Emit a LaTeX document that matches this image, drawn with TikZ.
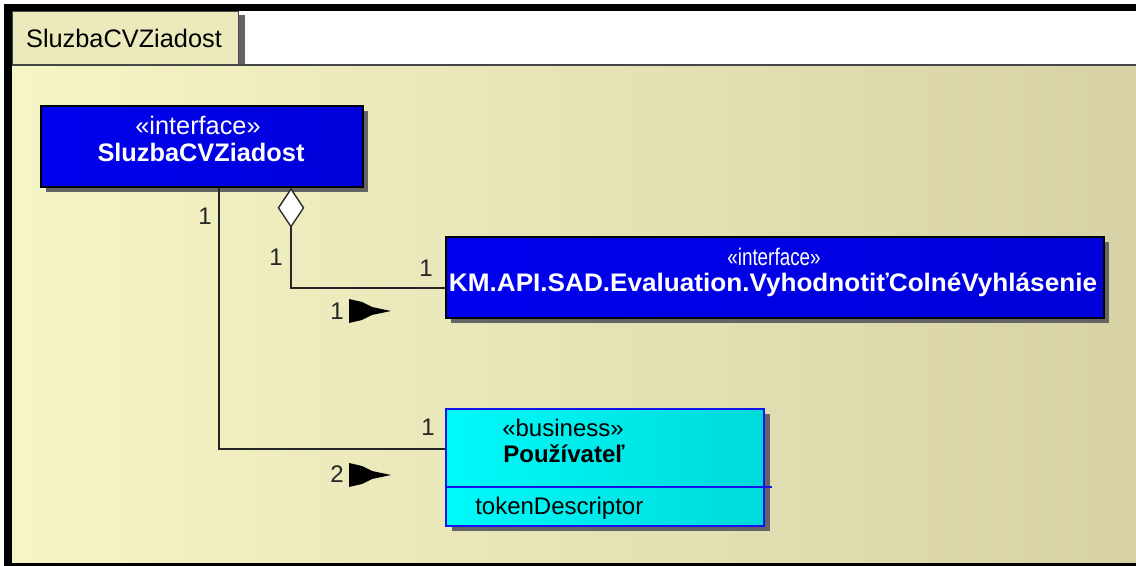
\documentclass[tikz,border=0pt]{standalone}
\usepackage{fontspec}
\setmainfont{Liberation Sans}
\usetikzlibrary{arrows.meta,shadows}
\definecolor{bgL}{RGB}{246,245,198}
\definecolor{bgR}{RGB}{214,210,166}
\definecolor{tabfill}{RGB}{236,234,188}
\definecolor{framegray}{RGB}{70,70,70}
\definecolor{shgray}{RGB}{100,100,100}
\definecolor{ifblueL}{RGB}{0,0,238}
\definecolor{ifblueR}{RGB}{0,0,218}
\definecolor{cyL}{RGB}{0,250,250}
\definecolor{cyR}{RGB}{0,218,218}
\definecolor{bborder}{RGB}{20,20,240}
\newcommand{\fitw}[2]{\resizebox{#1}{\height}{#2}}
\begin{document}
\begin{tikzpicture}[x=0.75pt,y=-0.75pt,
  every node/.style={font=\fontsize{18pt}{21pt}\selectfont, inner sep=0pt},
  big/.style={font=\fontsize{19pt}{22pt}\selectfont},
  bigb/.style={font=\fontsize{19pt}{22pt}\selectfont\bfseries},
  tabbox/.style={draw=framegray, line width=1.1pt, fill=tabfill, anchor=north west},
  ifbox/.style={draw=black, line width=1.4pt, left color=ifblueL, right color=ifblueR,
     anchor=north west, drop shadow={shadow xshift=3.5pt, shadow yshift=-3.5pt, fill=shgray, opacity=1}},
  bizbox/.style={draw=bborder, line width=1.4pt, left color=cyL, right color=cyR,
     anchor=north west, drop shadow={shadow xshift=4.5pt, shadow yshift=-4pt, fill=shgray, opacity=1}},
  wtext/.style={text=white},
  btext/.style={text=black},
  conn/.style={draw=black!85, line width=1.1pt},
  mult/.style={text=black!85},
  dirflag/.pic={\fill[black] (0,-12) -- (13,-9) -- (23,-4) -- (42,0) -- (23,4) -- (13,9) -- (0,12) -- cycle;}
]
\useasboundingbox (0,0) rectangle (1136,566);
\fill[white] (0,0) rectangle (1136,566);
% diagram background
\shade[left color=bgL, right color=bgR] (12,65) rectangle (1136,563);
% outer black frame
\fill[black] (4,4) rectangle (1136,11);
\fill[black] (4,4) rectangle (12,566);
\fill[black] (4,563) rectangle (1136,566);
% tab
\fill[shgray] (238,15) rectangle (245,65);
\node[tabbox, minimum width=169.5pt, minimum height=40.5pt] (tab) at (12,11) {};
\node[big] (tabtxt) at (124,38) {SluzbaCVZiadost};
\draw[framegray, line width=1.5pt] (12,65) -- (1136,65);

% boxes
\node[ifbox, minimum width=241.5pt, minimum height=60.75pt] (b1) at (40,105) {};
\node[wtext, big] (b1s) at (198,125) {«interface»};
\node[wtext, bigb] (b1n) at (201,152) {SluzbaCVZiadost};

\node[ifbox, minimum width=493.5pt, minimum height=60.75pt] (b2) at (445,236) {};
\node[wtext] (b2s) at (774,257) {\fitw{70pt}{«interface»}};
\node[wtext, font=\fontsize{19pt}{22pt}\selectfont\bfseries] (b2n) at (773,285) {\fitw{486pt}{KM.API.SAD.Evaluation.VyhodnotiťColnéVyhlásenie}};

\node[bizbox, minimum width=238.5pt, minimum height=87.75pt] (b3) at (445,408) {};
\draw[bborder, line width=1.4pt] ([yshift=30pt]b3.south west) -- ([xshift=5.25pt,yshift=30pt]b3.south east);
\node[btext] (b3s) at (563,428) {«business»};
\node[btext, font=\fontsize{18pt}{21pt}\selectfont\bfseries] (b3n) at (564,454) {Používateľ};
\node[btext, anchor=west] (b3a) at (475,508) {tokenDescriptor};

% connectors
\draw[conn] ([xshift=134.25pt]b1.south west) |- ([yshift=13.875pt]b3.west);
\draw[conn, {Diamond[open, fill=white, length=30pt, width=20pt, line width=1pt]}-]
  ([xshift=188.25pt]b1.south west) |- ([yshift=-7.875pt]b2.west);

% multiplicities
\node[mult] (m1) at (205,216) {1};
\node[mult] (m2) at (276,257) {1};
\node[mult] (m3) at (426,268) {1};
\node[mult] (m4) at (337,311) {1};
\node[mult] (m5) at (428,427) {1};
\node[mult] (m6) at (337,474) {2};
\pic at (349,311) {dirflag};
\pic at (349,475) {dirflag};
\end{tikzpicture}
\end{document}
